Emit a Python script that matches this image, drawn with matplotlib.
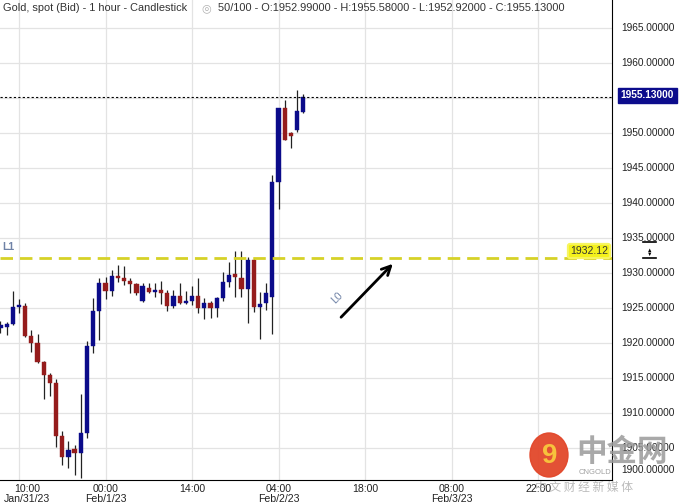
import matplotlib.pyplot as plt
from matplotlib.patches import Ellipse, Rectangle
from matplotlib.lines import Line2D

# hourly candles, hour 0 = Jan/31/23 10:00
hours = list(range(-3, 47))
opens = [1922.14, 1922.29, 1922.71, 1925.14, 1925.29, 1921.00, 1920.00, 1917.29, 1915.43, 1914.29,
         1906.71, 1903.71, 1904.86, 1904.29, 1907.14, 1919.57, 1924.57, 1928.57, 1927.43, 1929.57,
         1929.29, 1928.86, 1928.43, 1926.00, 1927.86, 1927.29, 1927.57, 1927.14, 1925.29, 1926.71,
         1925.71, 1926.00, 1926.71, 1925.00, 1925.71, 1925.00, 1926.43, 1928.71, 1929.86, 1929.29,
         1927.71, 1931.86, 1925.14, 1925.71, 1926.57, 1943.00, 1953.57, 1950.00, 1950.43, 1952.99]
highs = [1923.14, 1923.00, 1927.43, 1926.29, 1925.71, 1921.86, 1921.29, 1917.43, 1915.71, 1914.86,
         1907.43, 1906.00, 1905.43, 1912.71, 1920.29, 1926.43, 1929.29, 1929.43, 1930.43, 1931.14,
         1931.00, 1929.29, 1928.57, 1928.57, 1928.57, 1928.57, 1928.86, 1927.57, 1927.57, 1928.57,
         1927.43, 1928.14, 1929.29, 1926.43, 1926.00, 1926.57, 1930.14, 1931.57, 1933.14, 1933.14,
         1932.29, 1932.14, 1927.29, 1928.57, 1944.00, 1953.57, 1954.71, 1950.14, 1956.14, 1955.58]
lows = [1921.43, 1921.14, 1922.57, 1924.29, 1920.86, 1918.71, 1917.14, 1912.00, 1912.43, 1905.14,
        1902.57, 1902.14, 1901.14, 1900.71, 1906.43, 1918.57, 1920.43, 1926.29, 1926.71, 1928.71,
        1928.29, 1927.14, 1926.86, 1925.86, 1927.14, 1926.57, 1925.57, 1924.57, 1925.00, 1925.57,
        1925.57, 1925.43, 1924.29, 1923.43, 1923.57, 1923.71, 1926.00, 1928.00, 1926.57, 1926.57,
        1922.86, 1924.43, 1920.57, 1924.71, 1921.29, 1939.14, 1949.00, 1947.86, 1950.14, 1952.92]
closes = [1922.57, 1922.71, 1925.14, 1925.43, 1921.00, 1920.00, 1917.29, 1915.43, 1914.29, 1906.71,
          1903.71, 1904.71, 1904.29, 1907.14, 1919.57, 1924.57, 1928.57, 1927.43, 1929.57, 1929.29,
          1928.86, 1928.43, 1927.14, 1928.14, 1927.29, 1927.57, 1927.14, 1925.29, 1926.71, 1925.71,
          1926.00, 1926.71, 1925.00, 1925.71, 1925.00, 1926.43, 1928.71, 1929.71, 1929.43, 1927.71,
          1931.86, 1925.14, 1925.57, 1927.14, 1943.00, 1953.57, 1949.00, 1949.57, 1953.14, 1955.13]

last_price = 1955.13
level_l1 = 1932.12
price_ticks = [1905, 1910, 1915, 1920, 1925, 1930, 1935, 1940, 1945, 1950, 1955, 1960, 1965]
price_labels = [1900, 1905, 1910, 1915, 1920, 1925, 1930, 1935, 1940, 1945, 1950, 1960, 1965, 1970]
time_ticks = [0, 14, 28, 42, 56, 70, 84]
time_labels = ["10:00\nJan/31/23", "00:00\nFeb/1/23", "14:00", "04:00\nFeb/2/23",
               "18:00", "08:00\nFeb/3/23", "22:00"]
arrow_start = (51.8, 1923.4)
arrow_end = (60.8, 1931.6)

UP = "#0b0b8a"
DOWN = "#951c1c"
W, H = 683, 504

plt.rcParams['font.family'] = ['Liberation Sans', 'DejaVu Sans']

fig = plt.figure(figsize=(W / 100, H / 100), dpi=100)
ax = fig.add_axes([0, 24 / H, 612 / W, 480 / H])


def px(x):
    return x / W


def py(y):
    return 1 - y / H


# candles
for h, o, hi, lo, c in zip(hours, opens, highs, lows, closes):
    col = UP if c >= o else DOWN
    ax.vlines(h, lo, hi, color="#222222", lw=0.9, zorder=2)
    body = max(abs(c - o), 0.3)
    ax.bar(h, body, bottom=min(o, c), width=0.68, color=col, edgecolor=col, lw=0.3, zorder=3)

ax.set_xlim(-3.07, 95.95)
ax.set_ylim(1900.43, 1969.0)

ax.set_yticks(price_ticks)
ax.set_xticks(time_ticks)
ax.grid(True, color="#e3e3e3", lw=0.9)
ax.set_axisbelow(True)
ax.tick_params(length=0, labelleft=False, labelbottom=False)
for s in ["left", "top"]:
    ax.spines[s].set_visible(False)
ax.spines["right"].set_color("black")
ax.spines["bottom"].set_color("black")

# level lines
ax.axhline(last_price, color="black", lw=0.8, ls=(0, (2, 2)), zorder=4)
ax.axhline(level_l1, color="#d6d227", lw=2.0, ls=(0, (4.5, 2.5)), zorder=4)
ax.text(-2.7, level_l1 + 1.6, "L1", color="#6f82a6", fontsize=7.5, fontweight="bold", va="center")
ax.annotate("", xy=arrow_end, xytext=arrow_start,
            arrowprops=dict(arrowstyle="->", color="black", lw=2.0, mutation_scale=16), zorder=5)
ax.text(arrow_start[0] - 0.3, arrow_start[1] + 3.0, "L0", color="#6f82a6", fontsize=7.5,
        rotation=45, ha="center", va="center")

# right price labels (1955 is covered by the last price box)
for v in price_labels:
    ypix = 273 - (v - 1930) * 7
    if v == 1900:
        ypix = 470
    fig.text(px(621), py(ypix), f"{v:.5f}", fontsize=7.3, color="#222222", va="center", ha="left")

fig.patches.append(Rectangle((px(618), py(103)), px(59), 15 / H, transform=fig.transFigure,
                             color="#0c0c8c", zorder=5))
fig.text(px(647.5), py(95.5), f"{last_price:.5f}", fontsize=7.3, color="white",
         fontweight="bold", va="center", ha="center", zorder=6)

fig.text(px(608), py(251), f"{level_l1:.2f}", fontsize=7.5, color="#333333", va="center", ha="right",
         bbox=dict(boxstyle="round,pad=0.2", fc="#f4f11c", ec="#f7f560", lw=1.5), zorder=6)

# little handle icon on the price scale
fig.add_artist(Line2D([px(643), px(656)], [py(241.5), py(241.5)], color="black", lw=1.2))
fig.add_artist(Line2D([px(643), px(656)], [py(257.5), py(257.5)], color="black", lw=1.2))
fig.text(px(649.5), py(250.5), "▲", fontsize=4, ha="center", va="center")
fig.text(px(649.5), py(254.5), "▼", fontsize=4, ha="center", va="center")

# time labels
for t, lab in zip(time_ticks, time_labels):
    xp = 19 + t * 6.18
    if t == 0:
        xp = 27
    fig.text(px(xp), py(484), lab, fontsize=7.6, color="#222222", ha="center", va="top",
             linespacing=0.95)

# header
fig.text(px(3), py(8), "Gold, spot (Bid) - 1 hour - Candlestick", fontsize=7.9, color="#333333",
         va="center")
fig.text(px(206), py(8), "◎", fontsize=8, color="#b0b0b0", va="center", ha="center")
fig.text(px(218), py(8), "50/100 - O:1952.99000 - H:1955.58000 - L:1952.92000 - C:1955.13000",
         fontsize=7.9, color="#333333", va="center")

# watermark
fig.patches.append(Ellipse((px(549), py(455)), 38 / W, 44 / H, transform=fig.transFigure,
                           color="#e2472a", alpha=0.95, zorder=7))
fig.text(px(550), py(456), "9", fontsize=20, fontweight="bold", color="#f7c23c",
         ha="center", va="center", zorder=8)
fig.text(px(576), py(452), "中金网", fontsize=22, fontweight="bold", color="#9a9a9a", alpha=0.85,
         family=["Noto Sans CJK SC", "DejaVu Sans"], va="center", ha="left", zorder=8)
fig.text(px(579), py(472), "CNGOLD", fontsize=5.5, color="#a0a0a0", va="center", zorder=8)
fig.text(px(535), py(487), "中 文 财 经 新 媒 体", fontsize=8.5, color="#b0b0b0", alpha=0.85,
         family=["Noto Sans CJK SC", "DejaVu Sans"], va="center", ha="left", zorder=8)

fig.savefig("out.png", dpi=100)
